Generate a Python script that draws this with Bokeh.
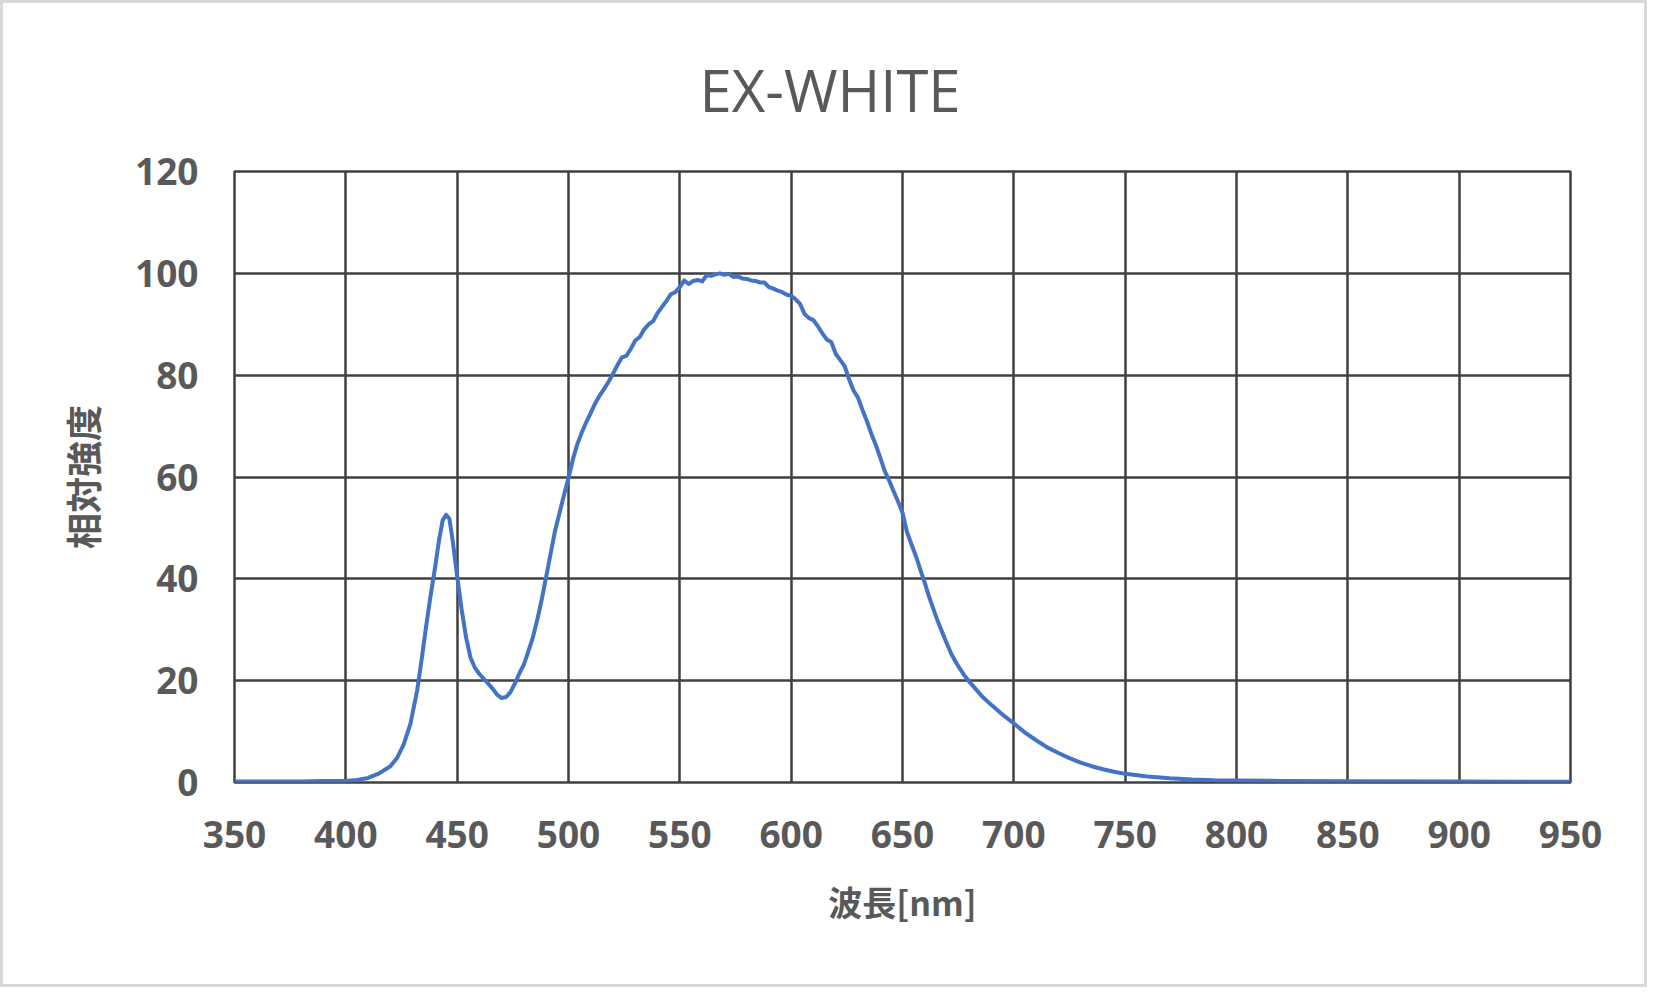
from bokeh.plotting import figure
from bokeh.models import ColumnDataSource, FixedTicker, Range1d, Title
from bokeh.embed import file_html
from bokeh.resources import INLINE

title_text = "EX-WHITE"
x_label = "波長[nm]"
y_label = "相対強度"
x_ticks = [350, 400, 450, 500, 550, 600, 650, 700, 750, 800, 850, 900, 950]
y_ticks = [0, 20, 40, 60, 80, 100, 120]

wavelength = [
    350, 360, 370, 380, 390, 400, 405, 410, 415, 420, 423, 426, 429, 432, 434, 436, 438, 440,
    442, 443.5, 445, 446.5, 448, 450, 452, 454, 456, 458, 460, 462, 464, 466, 468, 470, 472,
    474, 476, 478, 480, 482, 484, 486, 488, 490, 492, 494, 496, 498, 500, 502, 504, 506, 508,
    510, 512, 514, 516, 518, 520, 522, 524, 526, 528, 530, 532, 534, 536, 538, 540, 542, 544,
    546, 548, 550, 552, 554, 556, 558, 560, 562, 564, 566, 568, 570, 572, 574, 576, 578, 580,
    582, 584, 586, 588, 590, 592, 594, 596, 598, 600, 602, 604, 606, 608, 610, 612, 614, 616,
    618, 620, 622, 624, 626, 628, 630, 632, 634, 636, 638, 640, 642, 644, 646, 648, 650, 652,
    654, 656, 658, 660, 662, 664, 666, 668, 670, 672, 674, 676, 678, 680, 683, 686, 690, 695,
    700, 705, 710, 715, 720, 725, 730, 735, 740, 745, 750, 760, 770, 780, 790, 800, 820, 850,
    900, 950,
]
intensity = [
    0.2, 0.2, 0.2, 0.2, 0.3, 0.3, 0.5, 0.9, 1.8, 3.2, 4.8, 7.5, 11.5, 18.0, 24.0, 30.5, 36.5, 42.0,
    48.0, 51.5, 52.6, 51.8, 47.5, 40.5, 34.0, 28.5, 24.5, 22.5, 21.3, 20.3, 19.4, 18.4, 17.2, 16.6, 16.8,
    17.8, 19.5, 21.5, 23.2, 25.8, 28.5, 32.0, 36.0, 40.5, 45.0, 49.5, 53.0, 56.5, 59.8, 63.5, 66.5, 68.8, 70.8,
    72.6, 74.5, 76.0, 77.3, 78.7, 80.3, 82.0, 83.5, 83.8, 85.2, 86.8, 87.5, 89.0, 90.0, 90.6, 92.2, 93.4, 94.6,
    95.9, 96.3, 97.3, 98.6, 97.9, 98.5, 98.7, 98.4, 99.6, 99.5, 99.8, 100.0, 99.7, 99.9, 99.3, 99.4, 99.0, 98.9,
    98.6, 98.5, 98.2, 98.2, 97.3, 97.0, 96.6, 96.3, 95.8, 95.6, 94.9, 94.0, 92.0, 91.2, 90.8, 89.6, 88.2, 87.0,
    86.5, 84.2, 83.0, 81.8, 79.2, 77.0, 75.6, 73.2, 71.0, 68.5, 66.3, 63.8, 61.2, 59.3, 57.2, 55.2, 53.0, 49.2,
    46.8, 44.5, 41.8, 39.2, 36.4, 33.9, 31.5, 29.3, 27.2, 25.2, 23.6, 22.2, 20.9, 19.8, 18.3, 16.8, 15.2, 13.3,
    11.6, 9.8, 8.3, 6.9, 5.8, 4.8, 3.9, 3.2, 2.6, 2.1, 1.7, 1.2, 0.85, 0.6, 0.45, 0.4, 0.3, 0.25,
    0.2, 0.15,
]

src = ColumnDataSource(data=dict(x=wavelength, y=intensity))

GRID = "#404040"
TEXT = "#595959"

p = figure(
    width=1647, height=987,
    x_range=Range1d(350, 950), y_range=Range1d(0, 120),
    output_backend="svg", toolbar_location=None,
    min_border_left=231, min_border_right=80, min_border_top=168, min_border_bottom=208,
)
p.styles = {"border": "3px solid #d9d9d9"}
p.background_fill_color = "white"
p.border_fill_color = "white"
p.outline_line_color = GRID
p.outline_line_width = 2.5

p.line("x", "y", source=src, line_color="#4472C4", line_width=4, line_join="round")

p.title = Title(text=title_text, align="left", text_font="Open Sans", text_font_size="58px",
                text_font_style="normal", text_color=TEXT, standoff=86, offset=465,
                text_line_height=0.6)

for ax in (p.xaxis[0], p.yaxis[0]):
    ax.axis_line_color = None
    ax.major_tick_line_color = None
    ax.minor_tick_line_color = None
    ax.major_tick_out = 0
    ax.major_tick_in = 0
    ax.major_label_text_font = "Open Sans"
    ax.major_label_text_font_style = "bold"
    ax.major_label_text_font_size = "37px"
    ax.major_label_text_color = TEXT
    ax.axis_label_text_font = "Noto Sans CJK JP"
    ax.axis_label_text_font_style = "bold"
    ax.axis_label_text_color = TEXT

p.xaxis.axis_label_text_font_size = "34px"
p.yaxis.axis_label_text_font_size = "36px"
p.xaxis.ticker = FixedTicker(ticks=x_ticks)
p.yaxis.ticker = FixedTicker(ticks=y_ticks)
p.xaxis.axis_label = x_label
p.yaxis.axis_label = y_label
p.xaxis.major_label_standoff = 38
p.yaxis.major_label_standoff = 36
p.xaxis.axis_label_standoff = 26
p.yaxis.axis_label_standoff = 24

p.xgrid.grid_line_color = GRID
p.ygrid.grid_line_color = GRID
p.xgrid.grid_line_width = 2.5
p.ygrid.grid_line_width = 2.5

open("out.html", "w").write(file_html(p, INLINE))
